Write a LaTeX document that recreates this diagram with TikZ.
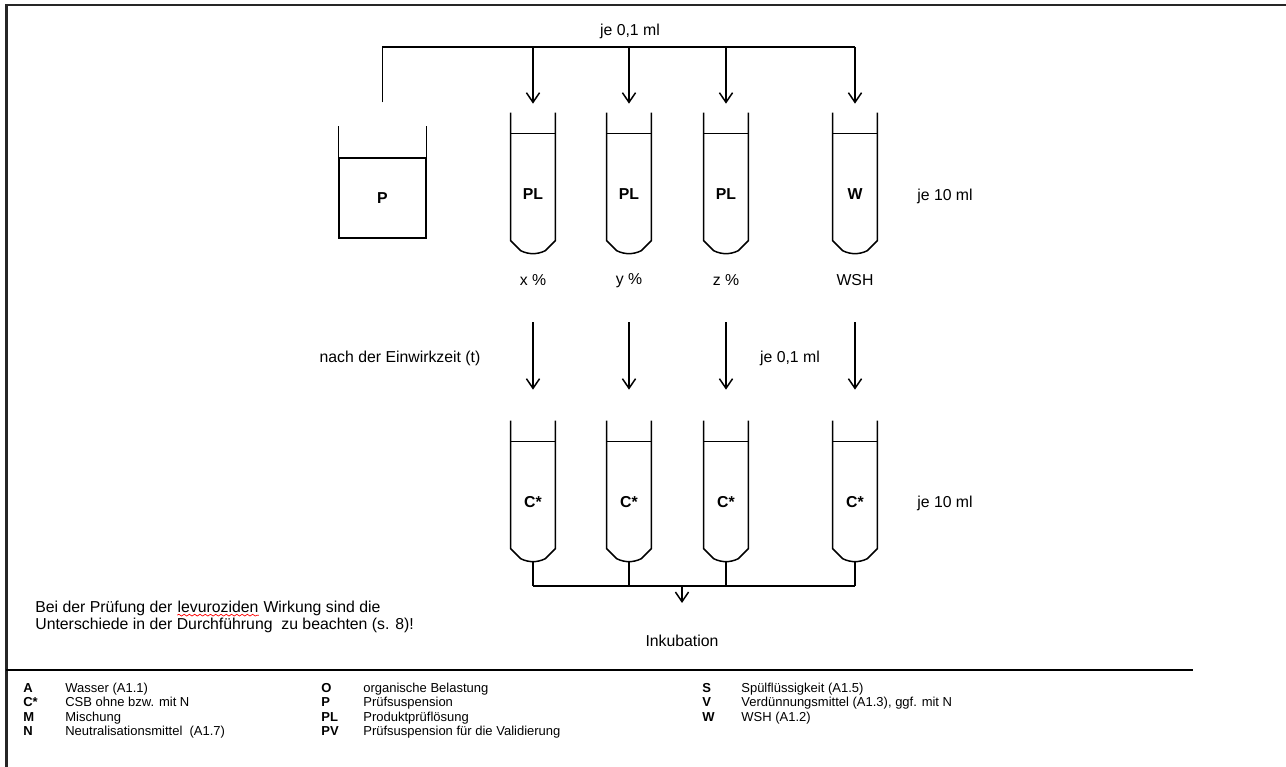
\documentclass[tikz,border=0pt]{standalone}
\usepackage{fontspec}
\setmainfont{Liberation Sans}
\usetikzlibrary{arrows.meta,positioning,calc,decorations.pathmorphing}

% test tube drawn round a tube node (north = liquid level, south = bottom tip)
\newcommand\tubeoutline[1]{%
  \draw[tl] ($(#1.north west)+(0,-21)$) -- ($(#1.north west)+(0,107)$) -- ++(10,10)
    .. controls +(8,4) and +(-8,4) .. ($(#1.north east)+(-10,117)$) -- ++(10,-10)
    -- ($(#1.north east)+(0,-21)$);
  \draw[tl] (#1.north west) -- (#1.north east);}

\begin{document}
\begin{tikzpicture}[x=0.02cm,y=-0.02cm,>={Straight Barb[length=5.5pt,width=7.5pt]},font=\fontsize{9}{11}\selectfont]
\tikzstyle{tl}=[line width=0.85pt]
\tikzstyle{arr}=[tl,->]
\tikzstyle{tube}=[minimum width=0.88cm,minimum height=2.4cm,inner sep=0pt,font=\fontsize{9}{11}\selectfont\bfseries]
\tikzstyle{note}=[anchor=base west,inner sep=0pt]
\tikzstyle{key}=[anchor=base west,inner sep=0pt,font=\fontsize{7.4}{9}\selectfont\bfseries]
\tikzstyle{desc}=[anchor=base west,inner sep=0pt,font=\fontsize{7.4}{9}\selectfont]
\useasboundingbox (0,0) rectangle (1286,767);
\draw[line width=1.5pt,black!85] (6.5,767) -- (6.5,5) -- (1286,5);
% beaker and tubes
\node[draw,tl,minimum width=1.74cm,minimum height=1.6cm,inner sep=0pt,font=\fontsize{9}{11}\selectfont\bfseries] (p) at (382.5,198) {P};
\draw[tl] (p.north west) -- ++(0,-31) (p.north east) -- ++(0,-31);
\foreach \i/\x/\t in {1/533/PL,2/629/PL,3/726/PL,4/855/W} {\node[tube] (t\i) at (\x,194) {\t}; \tubeoutline{t\i}}
\foreach \i/\x in {1/533,2/629,3/726,4/855} {\node[tube] (c\i) at (\x,502) {C*}; \tubeoutline{c\i}}
% 0,1 ml from P into the tubes
\coordinate (bar) at (0,47);
\coordinate (pin) at ($(p.north)+(0,-55)$);
\node (dose) at (630,31) {je 0,1 ml};
\draw[tl] (pin) -- (pin|-bar) -- (t4|-bar);
\foreach \i in {1,...,4} \draw[arr] (t\i|-bar) -- ($(t\i.north)+(0,-30)$);
\node (vol1) at (945,196) {je 10 ml};
\foreach \i/\t in {1/x \%,2/y \%,3/z \%,4/WSH} \node (lv\i) at ($(t\i.south)+(0,26)$) {\t};
% transfer after contact time
\foreach \i in {1,...,4} \draw[arr] ($(lv\i)+(0,42)$) -- ($(c\i.north)+(0,-52)$);
\node (wait) at (400,358) {nach der Einwirkzeit (t)};
\node (dose2) at (790,358) {je 0,1 ml};
\node (vol2) at (945,503) {je 10 ml};
% incubation
\coordinate (col) at (0,586);
\foreach \i in {1,...,4} \draw[tl] (c\i.south) -- (c\i.south|-col);
\draw[tl] (c1.south|-col) -- (c4.south|-col);
\node (inc) at (682,641) {Inkubation};
\draw[arr] (inc|-col) -- ($(inc.north)+(0,-26)$);
% note
\node[note] (n1) at (35,612) {Bei der Prüfung der};
\node[note] (lev) at ([xshift=2.5pt]n1.base east) {levuroziden};
\node[note] (n2) at ([xshift=2.5pt]lev.base east) {Wirkung sind die};
\node[note] (n3) at (35,629) {Unterschiede in der Durchführung\ \ zu beachten (s. 8)!};
\draw[red,decorate,decoration={snake,amplitude=0.5pt,segment length=3pt}] ([yshift=-1.8pt]lev.base west) -- ([yshift=-1.8pt]lev.base east);
% legend
\draw[tl] (6,670) -- (1193,670);
\foreach \k/\a/\b in {0/A/{Wasser (A1.1)},1/C*/{CSB ohne bzw. mit N},2/M/Mischung,3/N/{Neutralisationsmittel\ \ (A1.7)}} {\node[key] (ka\k) at (23,{692+\k*14.6}) {\a}; \node[desc] (da\k) at (65,{692+\k*14.6}) {\b};}
\foreach \k/\a/\b in {0/O/{organische Belastung},1/P/Prüfsuspension,2/PL/Produktprüflösung,3/PV/{Prüfsuspension für die Validierung}} {\node[key] (kb\k) at (321,{692+\k*14.6}) {\a}; \node[desc] (db\k) at (363,{692+\k*14.6}) {\b};}
\foreach \k/\a/\b in {0/S/{Spülflüssigkeit (A1.5)},1/V/{Verdünnungsmittel (A1.3), ggf. mit N},2/W/{WSH (A1.2)}} {\node[key] (kc\k) at (702,{692+\k*14.6}) {\a}; \node[desc] (dc\k) at (741,{692+\k*14.6}) {\b};}
\end{tikzpicture}
\end{document}
